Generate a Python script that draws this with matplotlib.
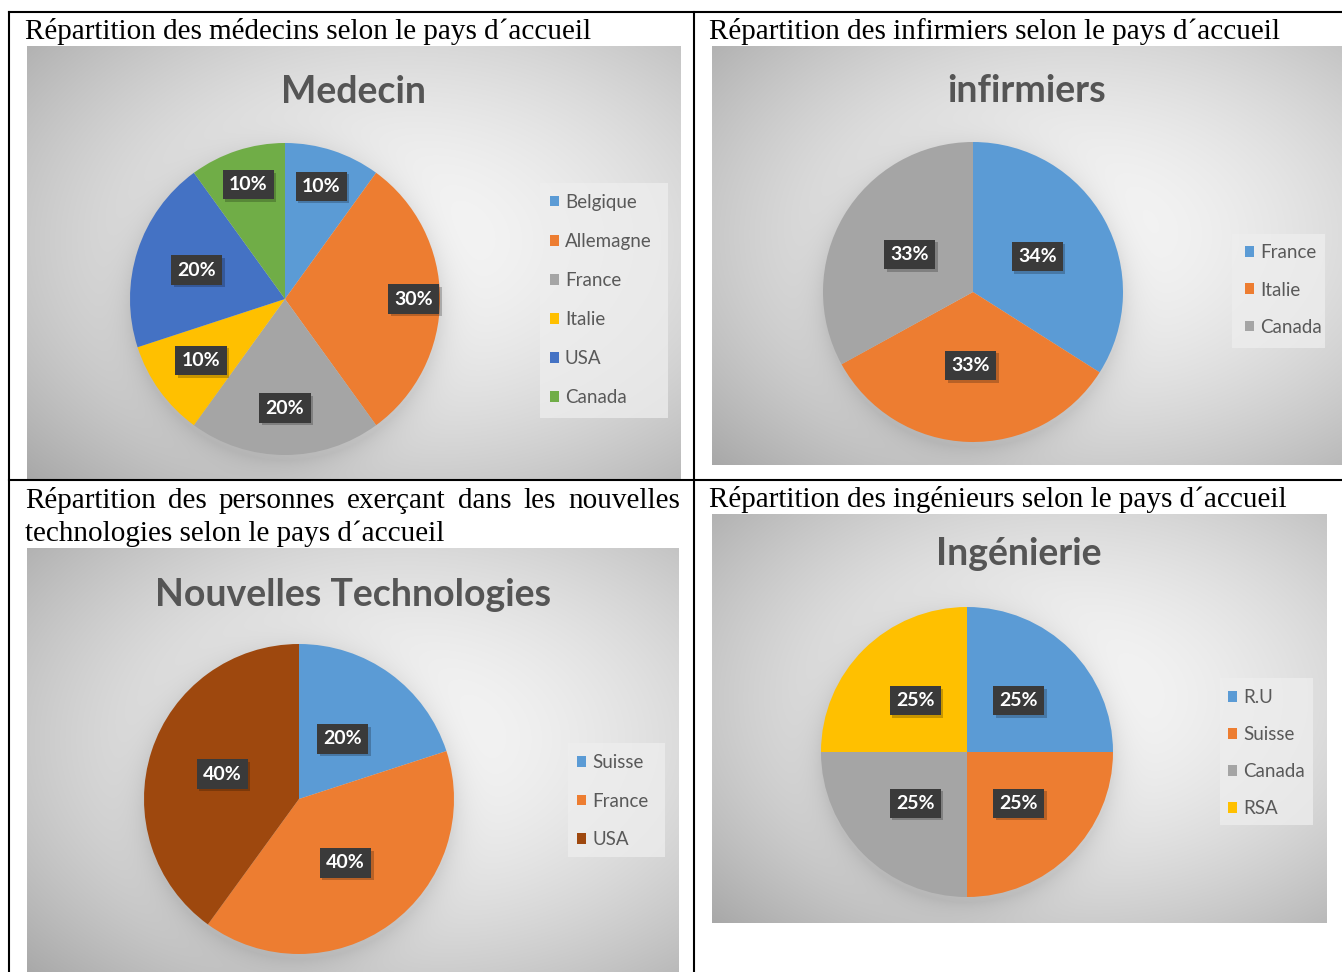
import numpy as np
import matplotlib
matplotlib.use("Agg")
import matplotlib.pyplot as plt
from matplotlib.lines import Line2D
from matplotlib.patches import Rectangle
from matplotlib import transforms

W, H = 1342, 972
DPI = 100

# ---------------- data ----------------
med_countries = ["Belgique", "Allemagne", "France", "Italie", "USA", "Canada"]
med_values = [10, 30, 20, 10, 20, 10]

inf_countries = ["France", "Italie", "Canada"]
inf_values = [34, 33, 33]

tech_countries = ["Suisse", "France", "USA"]
tech_values = [20, 40, 40]

ing_countries = ["R.U", "Suisse", "Canada", "RSA"]
ing_values = [25, 25, 25, 25]

chart_titles = ["Medecin", "infirmiers", "Nouvelles Technologies", "Ingénierie"]
caption_med = "Répartition des médecins selon le pays d\u00b4accueil"
caption_inf = "Répartition des infirmiers selon le pays d\u00b4accueil"
caption_tech_1 = "Répartition des personnes exerçant dans les nouvelles"
caption_tech_2 = "technologies selon le pays d\u00b4accueil"
caption_ing = "Répartition des ingénieurs selon le pays d\u00b4accueil"

# ---------------- styles ----------------
BLUE, ORANGE, GRAY, YELLOW = "#5B9BD5", "#ED7D31", "#A5A5A5", "#FFC000"
DBLUE, GREEN, BROWN = "#4472C4", "#70AD47", "#9E480E"

fig = plt.figure(figsize=(W / DPI, H / DPI), dpi=DPI)
fig.patch.set_facecolor("white")


def fig_rect(x0, y0, x1, y1):
    return [x0 / W, 1 - y1 / H, (x1 - x0) / W, (y1 - y0) / H]


def fx(x):
    return x / W


def fy(y):
    return 1 - y / H


def background(rect, pie):
    x0, y0, x1, y1 = rect
    w, h = int(x1 - x0), int(y1 - y0)
    yy, xx = np.mgrid[0:h, 0:w]
    px = xx + x0
    py = yy + y0
    gcx, gcy = x0 + 0.58 * w, y0 + 0.45 * h
    d = np.sqrt(((px - gcx) / (0.62 * w)) ** 2 + ((py - gcy) / (0.62 * h)) ** 2)
    val = 0.965 - 0.2 * np.clip(d, 0, 1.4) ** 1.7
    pcx, pcy, rx, ry = pie
    pd = np.sqrt(((px - pcx) / rx) ** 2 + ((py - pcy - 5) / ry) ** 2)
    val = val - 0.09 * np.exp(-np.clip(pd - 1, 0, None) / 0.09)
    val = np.clip(val, 0, 1)
    img = np.dstack([val, val, val])
    ax = fig.add_axes(fig_rect(*rect))
    ax.imshow(img, aspect="auto", interpolation="bilinear")
    ax.set_axis_off()
    return ax


def pie_chart(values, labels, colors, title, rect, pie, title_pos,
              label_dists, legend_pos, legend_box, label_spacing):
    background(rect, pie)
    pcx, pcy, rx, ry = pie
    ax = fig.add_axes(fig_rect(pcx - rx, pcy - ry, pcx + rx, pcy + ry))
    wedges, _ = ax.pie(values, colors=colors, startangle=90, counterclock=False,
                       wedgeprops=dict(linewidth=0))
    ax.set_xlim(-1, 1)
    ax.set_ylim(-1, 1)
    ax.set_aspect("auto")
    ax.set_axis_off()
    shadow_tr = transforms.offset_copy(ax.transData, fig=fig, x=2.5, y=-2.5, units="dots")
    for wdg, v, dist in zip(wedges, values, label_dists):
        mid = np.deg2rad((wdg.theta1 + wdg.theta2) / 2)
        x, y = dist * np.cos(mid), dist * np.sin(mid)
        txt = f"{v}%"
        ax.text(x, y, txt, transform=shadow_tr, ha="center", va="center",
                fontsize=14, fontweight="bold", family="Lato", color=(0, 0, 0, 0),
                bbox=dict(boxstyle="square,pad=0.32", fc=(0, 0, 0, 0.22), ec="none"),
                clip_on=False, zorder=4)
        ax.text(x, y, txt, ha="center", va="center", fontsize=14,
                fontweight="bold", family="Lato", color="white",
                bbox=dict(boxstyle="square,pad=0.32", fc="#3a3a3a", ec="none"),
                clip_on=False, zorder=5)
    # title
    fig.text(fx(title_pos[0]), fy(title_pos[1]), title, ha="center", va="baseline",
             fontsize=27, fontweight="bold", family="Lato", color="#555555")
    # legend box
    bx0, by0, bx1, by1 = legend_box
    fig.patches.append(Rectangle((fx(bx0), fy(by1)), (bx1 - bx0) / W, (by1 - by0) / H,
                                 transform=fig.transFigure, fc="#eeeeee", ec="none",
                                 alpha=0.75, zorder=2))
    leg = fig.legend(wedges, labels, loc="center left",
                     bbox_to_anchor=(fx(legend_pos[0]), fy(legend_pos[1])),
                     bbox_transform=fig.transFigure, frameon=False, borderpad=0,
                     borderaxespad=0, handlelength=0.5, handleheight=0.5,
                     handletextpad=0.3, labelspacing=label_spacing,
                     prop=dict(family="Lato", size=13.5), labelcolor="#595959")
    leg.set_zorder(6)


pie_chart(med_values, med_countries, [BLUE, ORANGE, GRAY, YELLOW, DBLUE, GREEN],
          chart_titles[0], rect=(27, 46, 681, 479), pie=(285, 299, 155, 156),
          title_pos=(354, 103), label_dists=[0.76, 0.83, 0.70, 0.67, 0.60, 0.77],
          legend_pos=(550, 300), legend_box=(540, 183, 668, 418), label_spacing=1.18)

pie_chart(inf_values, inf_countries, [BLUE, ORANGE, GRAY],
          chart_titles[1], rect=(712, 46, 1345, 465), pie=(973, 292, 150, 150),
          title_pos=(1027, 102), label_dists=[0.49, 0.49, 0.49],
          legend_pos=(1245, 290), legend_box=(1232, 234, 1325, 348), label_spacing=1.07)

pie_chart(tech_values, tech_countries, [BLUE, ORANGE, BROWN],
          chart_titles[2], rect=(27, 548, 679, 975), pie=(299, 799, 155, 155),
          title_pos=(353, 606), label_dists=[0.48, 0.51, 0.52],
          legend_pos=(577, 801), legend_box=(568, 743, 665, 857), label_spacing=1.15)

pie_chart(ing_values, ing_countries, [BLUE, ORANGE, GRAY, YELLOW],
          chart_titles[3], rect=(712, 514, 1327, 923), pie=(967, 752, 146, 145),
          title_pos=(1019, 565), label_dists=[0.5, 0.5, 0.5, 0.5],
          legend_pos=(1228, 753), legend_box=(1220, 678, 1313, 825), label_spacing=1.06)

# ---------------- table captions ----------------
cap_kw = dict(family="Liberation Serif", fontsize=21, color="black", va="baseline")
fig.text(fx(25), fy(39), caption_med, **cap_kw)
fig.text(fx(709), fy(39), caption_inf, **cap_kw)
fig.text(fx(709), fy(507), caption_ing, **cap_kw)
fig.text(fx(25), fy(541), caption_tech_2, **cap_kw)

renderer = fig.canvas.get_renderer()
words = caption_tech_1.split()
word_texts = [fig.text(0, fy(508), w, **cap_kw) for w in words]
widths = [t.get_window_extent(renderer).width for t in word_texts]
gap = (680 - 25 - sum(widths)) / (len(words) - 1)
xpos = 25.0
for t, wd in zip(word_texts, widths):
    t.set_x(fx(xpos))
    xpos += wd + gap

# ---------------- table lines ----------------
lw = 1.5
for xs, ys in [((9, 9), (12, 972)), ((9, 1342), (12, 12)),
               ((694, 694), (12, 972)), ((9, 1342), (480, 480))]:
    fig.lines.append(Line2D([fx(xs[0]), fx(xs[1])], [fy(ys[0]), fy(ys[1])],
                            transform=fig.transFigure, color="black", lw=lw, zorder=10))

fig.savefig("out.png", dpi=DPI, facecolor="white")
